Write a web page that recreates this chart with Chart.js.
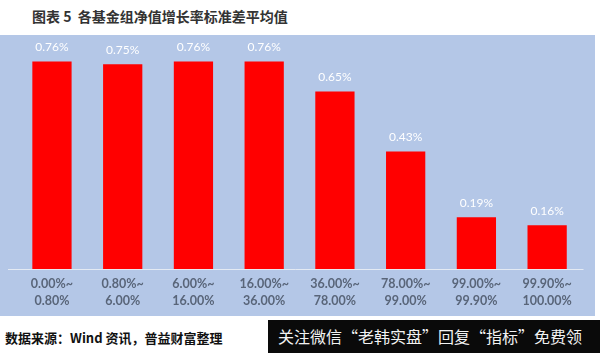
<!DOCTYPE html>
<html>
<head>
<meta charset="utf-8">
<script src="https://cdn.jsdelivr.net/npm/chart.js@4"></script>
<style>
  html, body { margin: 0; padding: 0; background: #fff; }
  #wrap { position: relative; width: 600px; height: 353px; overflow: hidden; }
  #title { position: absolute; left: 32px; top: 6px; font: bold 14px "Noto Sans CJK SC", sans-serif; color: #333; white-space: nowrap; }
  #panel { position: absolute; left: 0; top: 35px; width: 595px; height: 281px; background: #b4c7e7; }
  #source { position: absolute; left: 5px; top: 328px; font: bold 13px "Noto Sans CJK SC", sans-serif; color: #111; white-space: nowrap; }
  #ad { position: absolute; left: 268px; top: 320px; width: 332px; height: 33px; background: #0a0a0a; color: #f2f2f2;
        font: 16px "Noto Sans CJK SC", sans-serif; line-height: 33px; padding-left: 10px; box-sizing: border-box; white-space: nowrap; }
</style>
</head>
<body>
<div id="wrap">
  <div id="title">图表 5&nbsp;&nbsp;各基金组净值增长率标准差平均值</div>
  <div id="panel"><canvas id="myChart" width="595" height="281"></canvas></div>
  <div id="source">数据来源：Wind 资讯，普益财富整理</div>
  <div id="ad">关注微信“老韩实盘”回复“指标”免费领</div>
</div>
<script>
// category labels (two lines each)
var groups = [
  ["0.00%~", "0.80%"],
  ["0.80%~", "6.00%"],
  ["6.00%~", "16.00%"],
  ["16.00%~", "36.00%"],
  ["36.00%~", "78.00%"],
  ["78.00%~", "99.00%"],
  ["99.00%~", "99.90%"],
  ["99.90%~", "100.00%"]
];
// average std dev of NAV growth, in %
var stdAvg = [0.76, 0.75, 0.76, 0.76, 0.65, 0.43, 0.19, 0.16];

// white value labels above each bar + axis line across the plot
var barLabels = {
  id: "barLabels",
  beforeDatasetsDraw: function (chart) {
    var ctx = chart.ctx;
    var y = Math.round(chart.chartArea.bottom) + 0.5;
    ctx.save();
    ctx.strokeStyle = "#e4eaf3";
    ctx.lineWidth = 1;
    ctx.beginPath();
    ctx.moveTo(8, y);
    ctx.lineTo(chart.chartArea.right + 1, y);
    ctx.stroke();
    ctx.restore();
  },
  afterDatasetsDraw: function (chart) {
    var ctx = chart.ctx;
    var meta = chart.getDatasetMeta(0);
    ctx.save();
    ctx.fillStyle = "#ffffff";
    ctx.font = "12px Lato, sans-serif";
    ctx.textAlign = "center";
    ctx.textBaseline = "middle";
    meta.data.forEach(function (bar, i) {
      ctx.fillText(stdAvg[i].toFixed(2) + "%", bar.x, bar.y - 14);
    });
    ctx.restore();
  }
};

var myChart = new Chart("myChart", {
  type: "bar",
  data: {
    labels: groups,
    datasets: [{
      data: stdAvg,
      backgroundColor: "#ff0000",
      borderWidth: 0,
      categoryPercentage: 1,
      barPercentage: 0.555
    }]
  },
  options: {
    responsive: false,
    animation: false,
    layout: { padding: { left: 16.6, right: 12.5, top: 15.6, bottom: 0 } },
    plugins: { legend: { display: false }, tooltip: { enabled: false } },
    scales: {
      x: {
        grid: { display: false, drawTicks: false },
        border: { display: false },
        ticks: {
          color: "#596579",
          padding: 6,
          font: { family: "Lato, sans-serif", size: 12.5, weight: "bold", lineHeight: 1.38 }
        },
        afterFit: function (scale) { scale.height = 47; }
      },
      y: {
        display: false,
        min: 0,
        max: 0.8
      }
    }
  },
  plugins: [barLabels]
});
</script>
</body>
</html>
